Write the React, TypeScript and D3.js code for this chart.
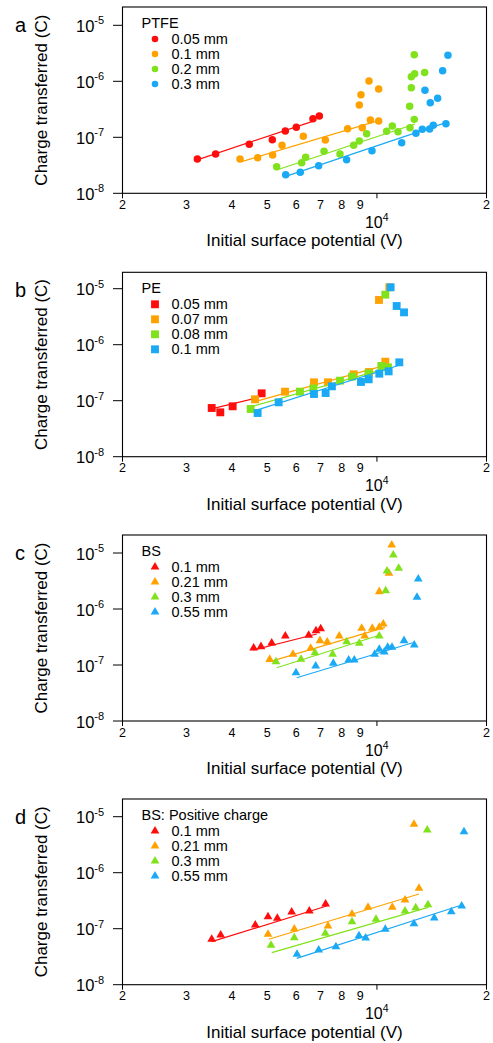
import React from 'react';
import * as d3 from 'd3';

type P = [number, number];

const COLORS = ['#ff0d0d', '#ffa200', '#80e21c', '#1aa9f4'];

const xTickValues = [2000, 3000, 4000, 5000, 6000, 7000, 8000, 9000, 20000];
const xTickLabels = ['2', '3', '4', '5', '6', '7', '8', '9', '2'];
const xMajorTicks = [2000, 10000, 20000];
const yTickValues = [1e-8, 1e-7, 1e-6, 1e-5];
const yTickExponents = ['-8', '-7', '-6', '-5'];

// ---------- Panel a: PTFE ----------
const ptfeTitle = 'PTFE';
const ptfeLabels = ['0.05 mm', '0.1 mm', '0.2 mm', '0.3 mm'];
const ptfe005: P[] = [[3211, 4.1e-8], [3605, 5.03e-8], [4460, 7.49e-8], [5160, 9.07e-8], [5602, 1.296e-7], [6005, 1.507e-7], [6673, 2.15e-7], [6946, 2.4e-7]];
const ptfe01: P[] = [[4206, 4.1e-8], [4702, 4.33e-8], [5170, 4.83e-8], [5486, 7.19e-8], [6277, 1.04e-7], [7217, 8.95e-8], [8308, 1.427e-7], [9118, 1.486e-7], [9592, 2.04e-7], [10111, 1.95e-7], [8945, 3.78e-7], [9040, 5.77e-7], [9511, 1.01e-6], [10111, 7.29e-7]];
const ptfe02: P[] = [[5303, 2.99e-8], [6212, 3.52e-8], [6371, 4.39e-8], [7157, 5.62e-8], [7916, 5.03e-8], [8632, 7.19e-8], [8945, 8.59e-8], [9372, 1.16e-7], [10634, 1.28e-7], [11023, 1.59e-7], [11427, 1.26e-7], [12325, 1.486e-7], [12665, 2.09e-7], [12300, 3.57e-7], [12430, 7.7e-7], [12430, 1.21e-6], [12693, 1.37e-6], [13522, 1.43e-6], [12665, 2.99e-6]];
const ptfe03: P[] = [[5615, 2.15e-8], [6158, 2.37e-8], [6918, 3.11e-8], [8255, 3.99e-8], [9692, 5.77e-8], [11695, 8.02e-8], [12800, 1.178e-7], [13323, 1.388e-7], [13957, 1.41e-7], [14282, 1.636e-7], [15475, 1.75e-7], [15672, 2.91e-6], [15155, 1.55e-6], [13552, 6.9e-7], [14015, 4.15e-7], [14683, 4.97e-7]];
const ptfeFits: P[][] = [
  [[3164, 3.83e-8], [6688, 1.95e-7]],
  [[4251, 3.67e-8], [9879, 1.9e-7]],
  [[5303, 2.61e-8], [12720, 1.73e-7]],
  [[5591, 1.98e-8], [15545, 1.85e-7]],
];

// ---------- Panel b: PE ----------
const peTitle = 'PE';
const peLabels = ['0.05 mm', '0.07 mm', '0.08 mm', '0.1 mm'];
const pe005: P[] = [[3516, 7.41e-8], [3713, 6.2e-8], [4015, 7.94e-8], [4823, 1.354e-7]];
const pe007: P[] = [[4624, 1.058e-7], [5591, 1.45e-7], [6715, 2.13e-7], [7337, 2.13e-7], [8632, 2.96e-7], [9511, 3.25e-7], [10546, 4.98e-7], [10132, 6.29e-6], [10815, 1.06e-5]];
const pe008: P[] = [[4499, 7.11e-8], [6145, 1.45e-7], [6688, 1.66e-7], [7916, 2.28e-7], [8541, 2.69e-7], [9470, 3.08e-7], [10283, 4.17e-7], [10725, 3.94e-7], [10546, 7.82e-6]];
const pe01: P[] = [[4702, 6.03e-8], [5370, 9.35e-8], [6715, 1.317e-7], [7229, 1.373e-7], [7522, 1.805e-7], [9040, 2.16e-7], [9492, 2.41e-7], [10153, 3.04e-7], [10770, 3.34e-7], [11521, 4.84e-7], [10906, 1.06e-5], [11330, 4.91e-6], [11870, 3.78e-6]];
const peFits: P[][] = [
  [[3531, 7.2e-8], [4742, 1.149e-7]],
  [[4624, 9.6e-8], [10457, 4.22e-7]],
  [[4528, 7.83e-8], [10862, 3.94e-7]],
  [[4624, 6.64e-8], [11571, 4.34e-7]],
];

// ---------- Panel c: BS ----------
const bsTitle = 'BS';
const bsLabels = ['0.1 mm', '0.21 mm', '0.3 mm', '0.55 mm'];
const bs01: P[] = [[4585, 2.01e-7], [4803, 2.13e-7], [5139, 2.47e-7], [5602, 3.3e-7], [6494, 3.39e-7], [6802, 4.1e-7], [7006, 4.45e-7]];
const bs021: P[] = [[5075, 1.26e-7], [5881, 1.55e-7], [6577, 1.99e-7], [6976, 2.72e-7], [7304, 2.58e-7], [7881, 3.3e-7], [9080, 4.52e-7], [9255, 3.3e-7], [9712, 4.52e-7], [10150, 4.71e-7], [10411, 5.4e-7], [10150, 2.04e-6], [10793, 4.34e-6], [10980, 1.39e-5]];
const bs03: P[] = [[5281, 1.146e-7], [6186, 1.264e-7], [6758, 1.658e-7], [7557, 1.553e-7], [8257, 2.61e-7], [8943, 2.44e-7], [10150, 3.3e-7], [10570, 2.12e-6], [10656, 4.77e-6], [11092, 9.2e-6], [11477, 5.33e-6]];
const bs055: P[] = [[5993, 7.29e-8], [6788, 9.6e-8], [7590, 1.07e-7], [8362, 1.228e-7], [8665, 1.228e-7], [9860, 1.553e-7], [10150, 1.91e-7], [10476, 1.71e-7], [10706, 2.07e-7], [11000, 2.07e-7], [11870, 2.72e-7], [12663, 2.28e-7], [12990, 3.43e-6], [12885, 1.62e-6]];
const bsFits: P[][] = [
  [[4575, 1.85e-7], [6832, 3.58e-7]],
  [[5085, 1.146e-7], [10524, 4.71e-7]],
  [[5304, 8.95e-8], [10196, 3.43e-7]],
  [[6021, 5.93e-8], [12537, 2.5e-7]],
];

// ---------- Panel d: BS positive charge ----------
const bspTitle = 'BS: Positive charge';
const bspLabels = ['0.1 mm', '0.21 mm', '0.3 mm', '0.55 mm'];
const bsp01: P[] = [[3516, 6.47e-8], [3722, 7.72e-8], [4633, 1.164e-7], [5021, 1.638e-7], [5325, 1.534e-7], [5832, 1.99e-7], [6520, 2.07e-7], [7229, 2.76e-7]];
const bsp021: P[] = [[5021, 7.94e-8], [5929, 9.88e-8], [7337, 1.117e-7], [8541, 1.83e-7], [9452, 2.41e-7], [11021, 2.41e-7], [11945, 3.25e-7], [13049, 5.26e-7], [12640, 7.31e-6]];
const bsp03: P[] = [[5117, 5.05e-8], [5929, 6.9e-8], [7215, 8.28e-8], [8541, 1.334e-7], [9941, 1.47e-7], [11945, 2.07e-7], [12779, 2.37e-7], [13810, 2.68e-7], [13750, 5.79e-6]];
const bsp055: P[] = [[6031, 3.49e-8], [6918, 4.17e-8], [7716, 4.77e-8], [8927, 7.5e-8], [9314, 6.82e-8], [10544, 9.76e-8], [12640, 1.228e-7], [14371, 1.553e-7], [16004, 2.01e-7], [17095, 2.54e-7], [17345, 5.4e-6]];
const bspFits: P[][] = [
  [[3516, 5.86e-8], [7278, 2.54e-7]],
  [[5043, 6.47e-8], [13049, 4.17e-7]],
  [[5140, 3.73e-8], [13836, 2.41e-7]],
  [[6021, 2.96e-8], [17095, 2.65e-7]],
];

type Shape = 'circle' | 'square' | 'triangle';

const panels = [
  { letter: 'a', top: 7, bottom: 193.3, title: ptfeTitle, labels: ptfeLabels, series: [ptfe005, ptfe01, ptfe02, ptfe03], fits: ptfeFits, shape: 'circle' as Shape },
  { letter: 'b', top: 272.3, bottom: 456.7, title: peTitle, labels: peLabels, series: [pe005, pe007, pe008, pe01], fits: peFits, shape: 'square' as Shape },
  { letter: 'c', top: 535, bottom: 721, title: bsTitle, labels: bsLabels, series: [bs01, bs021, bs03, bs055], fits: bsFits, shape: 'triangle' as Shape },
  { letter: 'd', top: 799, bottom: 984.7, title: bspTitle, labels: bspLabels, series: [bsp01, bsp021, bsp03, bsp055], fits: bspFits, shape: 'triangle' as Shape },
];

const FONT = '"Liberation Sans", Arial, Helvetica, sans-serif';
const LEFT = 122.5;
const RIGHT = 486.5;
const DECADE = 56;

function symbolPath(shape: Shape, legend: boolean): string {
  const s = d3.symbol();
  if (shape === 'circle') return s.type(d3.symbolCircle).size(legend ? 34 : 44)() as string;
  if (shape === 'square') return s.type(d3.symbolSquare).size(62)() as string;
  return s.type(d3.symbolTriangle).size(33)() as string;
}

function Panel({ p }: { p: typeof panels[number] }) {
  const x = d3.scaleLog().domain([2000, 20000]).range([LEFT, RIGHT]);
  const y = d3.scaleLog().domain([1e-8, 1e-5]).range([p.bottom, p.bottom - 3 * DECADE]);
  const line = d3.line<P>().x((d) => x(d[0])).y((d) => y(d[1]));
  const midY = (p.top + p.bottom) / 2;
  return (
    <g>
      <text x={15} y={p.top + 25} fontSize={20} fontFamily={FONT} fill="#000">{p.letter}</text>
      <text transform={`translate(47,${midY}) rotate(-90)`} textAnchor="middle" fontSize={17} fontFamily={FONT} fill="#000">Charge transferred (C)</text>
      {/* y ticks */}
      {yTickValues.map((v, i) => (
        <g key={'yt' + i}>
          <line x1={113} x2={LEFT} y1={y(v)} y2={y(v)} stroke="#000" strokeWidth={1} />
          <text x={76} y={y(v) + 6.5} fontSize={16.5} fontFamily={FONT} fill="#000">
            10<tspan fontSize={11} dy={-7.5}>{yTickExponents[i]}</tspan>
          </text>
        </g>
      ))}
      {/* x ticks */}
      {xMajorTicks.map((v, i) => (
        <line key={'xm' + i} x1={x(v)} x2={x(v)} y1={p.bottom} y2={p.bottom + 5} stroke="#000" strokeWidth={1} />
      ))}
      {xTickValues.map((v, i) => (
        <text key={'xt' + i} x={x(v)} y={p.bottom + 15.5} textAnchor="middle" fontSize={12.5} fontFamily={'"Liberation Sans Narrow", ' + FONT} fill="#000">{xTickLabels[i]}</text>
      ))}
      <text x={x(10000) - 12} y={p.bottom + 34.5} fontSize={16} fontFamily={FONT} fill="#000">
        10<tspan fontSize={10.5} dy={-7}>4</tspan>
      </text>
      <text x={(LEFT + RIGHT) / 2} y={p.bottom + 53} textAnchor="middle" fontSize={17} fontFamily={FONT} fill="#000">Initial surface potential (V)</text>
      {/* data */}
      {p.series.map((pts, si) => (
        <g key={'s' + si}>
          <path d={line(p.fits[si]) as string} fill="none" stroke={COLORS[si]} strokeWidth={1.2} />
          {pts.map((d, j) => (
            <path key={j} d={symbolPath(p.shape, false)} transform={`translate(${x(d[0])},${y(d[1])})`} fill={COLORS[si]} />
          ))}
        </g>
      ))}
      {/* legend */}
      <text x={141.5} y={p.top + 21} fontSize={14.5} fontFamily={FONT} fill="#000">{p.title}</text>
      {p.labels.map((lab, i) => (
        <g key={'lg' + i}>
          <path d={symbolPath(p.shape, true)} transform={`translate(155,${p.top + 32 + i * 15})`} fill={COLORS[i]} />
          <text x={171.5} y={p.top + 32 + i * 15 + 5} fontSize={14.5} fontFamily={FONT} fill="#000">{lab}</text>
        </g>
      ))}
      <rect x={LEFT} y={p.top} width={RIGHT - LEFT} height={p.bottom - p.top} fill="none" stroke="#000" strokeWidth={1.1} />
    </g>
  );
}

export default function App() {
  return (
    <svg width={493} height={1043} style={{ position: 'absolute', left: 0, top: 0, background: '#fff' }}>
      <rect width={493} height={1043} fill="#fff" />
      {panels.map((p) => <Panel key={p.letter} p={p} />)}
    </svg>
  );
}
